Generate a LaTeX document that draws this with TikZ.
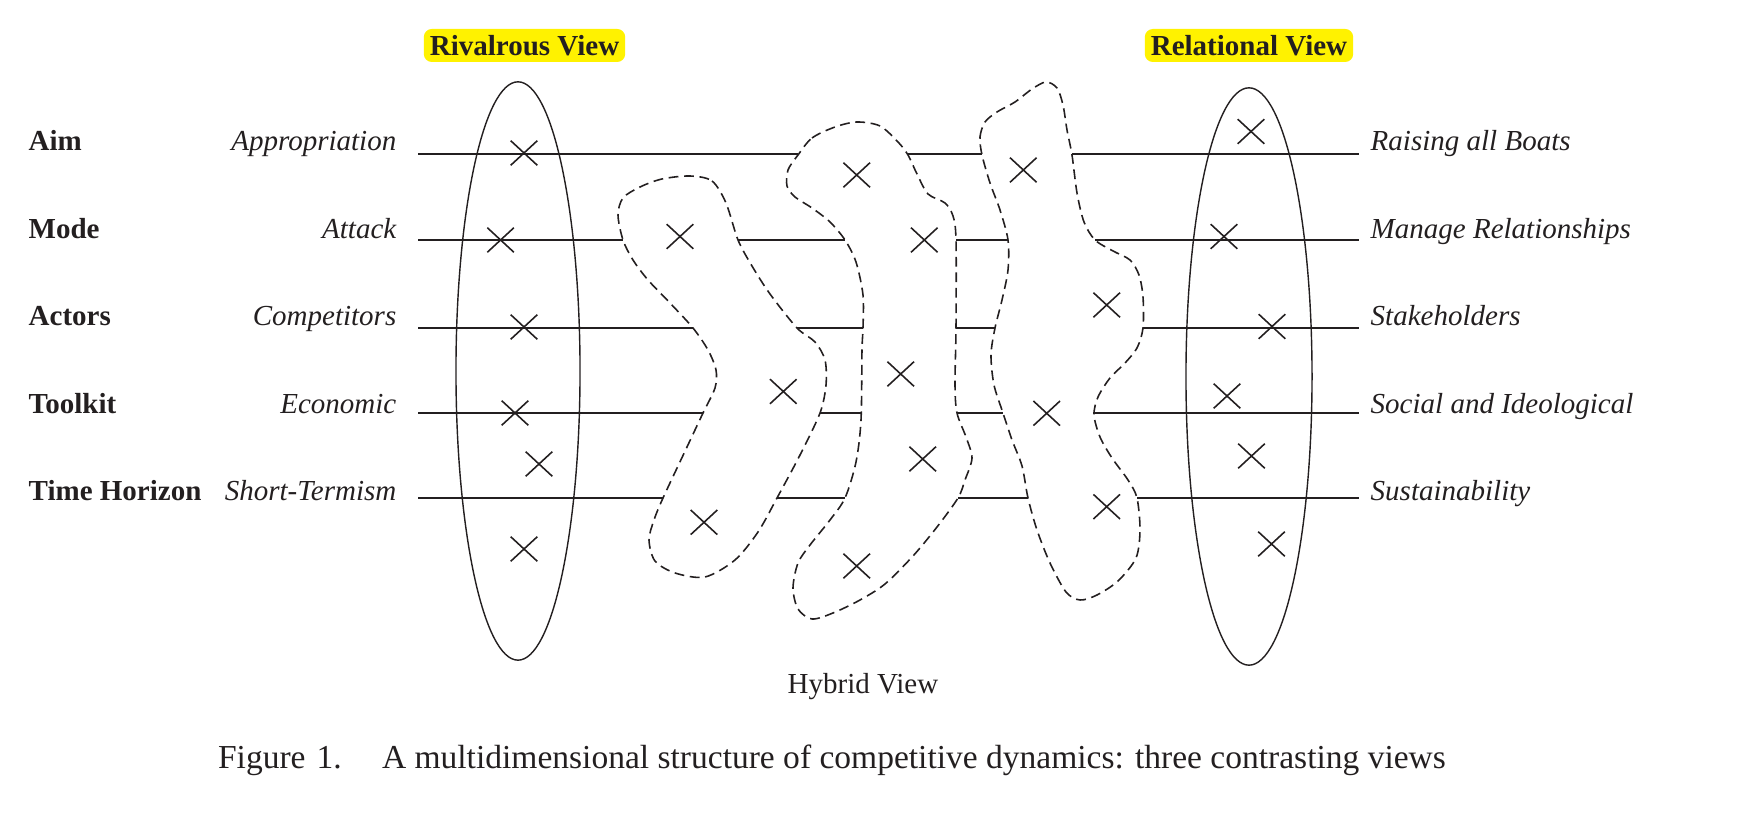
\documentclass[tikz,border=0pt]{standalone}
\usepackage{fontspec}
\setmainfont{Liberation Serif}
\usetikzlibrary{shapes.misc}
\definecolor{ink}{RGB}{35,31,32}
\def\labelfont{\fontsize{8.25pt}{10pt}\selectfont}
\def\capfont{\fontsize{9.53pt}{11pt}\selectfont}

\begin{document}
\begin{tikzpicture}[x=0.01cm, y=-0.01cm, ink,
  rowline/.style={line width=0.5pt},
  viewring/.style={line width=0.4pt},
  blob/.style={line width=0.45pt, dash pattern=on 2.8pt off 1.6pt},
  xmark/.style={cross out, draw, line width=0.45pt, inner sep=0pt, minimum width=0.25cm, minimum height=0.23cm},
  dimname/.style={font=\labelfont\bfseries, inner sep=0pt},
  poleterm/.style={font=\labelfont\itshape, inner sep=0pt},
  viewtag/.style={font=\labelfont\bfseries, fill=yellow, rounded corners=0.08cm, inner xsep=0.06cm, inner ysep=0pt, minimum height=0.33cm}]
				%%%%% START %%%%%
				\useasboundingbox (0,0) rectangle (1748,816);
				
				\node[viewtag] (rivalrous) at (524.5,45.5) {Rivalrous View};
				\node[viewtag] (relational) at (1249,45.5) {Relational View};
				
				\foreach \aspect/\rivterm/\relterm [count=\i] in {Aim/Appropriation/Raising all Boats, Mode/Attack/Manage Relationships, Actors/Competitors/Stakeholders, Toolkit/Economic/Social and Ideological, Time Horizon/Short-Termism/Sustainability}
				{
					\node[dimname, anchor=base west] (dim\i) at (28, {150.5+87.6*(\i-1)}) {\aspect};
					\node[poleterm, anchor=base east] (riv\i) at (397, {150.5+87.6*(\i-1)}) {\rivterm};
					\node[poleterm, anchor=base west] (rel\i) at (1370, {150.5+87.6*(\i-1)}) {\relterm};
				}
				
				\draw[rowline] (418,154) -- (798,154) (908,154) -- (982,154) (1072,154) -- (1359,154);
				\draw[rowline] (418,240) -- (623,240) (738,240) -- (845,240) (956,240) -- (1008,240) (1095,240) -- (1359,240);
				\draw[rowline] (418,328) -- (693,328) (797,328) -- (863,328) (956,328) -- (995,328) (1143,328) -- (1359,328);
				\draw[rowline] (418,413) -- (703,413) (820,413) -- (861,413) (957,413) -- (1003,413) (1093,413) -- (1359,413);
				\draw[rowline] (418,498) -- (663,498) (777,498) -- (845,498) (958,498) -- (1028,498) (1137,498) -- (1359,498);
				
				\draw[viewring] (518,371) ellipse [x radius=0.62cm, y radius=2.89cm];
				\draw[viewring] (1249,376.5) ellipse [x radius=0.63cm, y radius=2.885cm];
				
				\draw[blob] plot[smooth cycle] coordinates {(690,176) (712,181) (726,203) (738,240) (752,266) (770,294) (797,328) (815,342) (825,360) (826,385) (820,413) (800,455) (777,498) (758,532) (735,560) (705,577) (675,573) (655,561) (649,540) (654,520) (663,498) (687,447) (703,413) (715,388) (716,370) (708,350) (693,328) (670,303) (648,280) (633,260) (623,240) (618,215) (623,198) (640,187) (662,179)};
				\draw[blob] plot[smooth cycle] coordinates {(798,155) (812,138) (835,127) (857,122) (880,126) (898,142) (908,155) (917,174) (928,194) (945,203) (953,216) (956,240) (956,328) (955,385) (957,413) (966,437) (972,458) (965,480) (958,498) (937,527) (913,556) (885,584) (860,600) (833,613) (812,619) (798,609) (793,588) (798,563) (810,545) (830,520) (845,498) (856,462) (861,420) (862,350) (863,328) (863,295) (856,262) (845,240) (830,222) (812,208) (795,197) (787,186) (788,170)};
				\draw[blob] plot[smooth cycle] coordinates {(982,155) (980,137) (985,122) (997,112) (1015,102) (1032,89) (1046,82) (1057,88) (1063,105) (1067,130) (1072,155) (1077,193) (1084,222) (1095,240) (1113,251) (1130,260) (1139,275) (1143,297) (1143,328) (1137,348) (1125,363) (1110,378) (1098,397) (1094,415) (1100,437) (1112,458) (1128,480) (1137,498) (1140,530) (1136,558) (1118,581) (1097,595) (1080,600) (1066,592) (1050,563) (1037,530) (1028,498) (1022,466) (1012,440) (1003,413) (994,385) (991,355) (995,328) (1002,300) (1008,270) (1008,240) (1000,210) (990,183)};
				
				\foreach \x/\y [count=\i] in {524/153, 500.6/240, 524/327, 515/413, 539/464, 524/549}
					\node[xmark] (rx\i) at (\x,\y) {};
				\foreach \x/\y [count=\i] in {680/236.5, 783.3/391.5, 704/522.3, 856.7/175, 924.3/240, 900.7/374, 922.7/459, 856.7/566, 1023.3/170, 1106.7/305, 1046.7/413.3, 1106.7/506.7}
					\node[xmark] (hx\i) at (\x,\y) {};
				\foreach \x/\y [count=\i] in {1251/131.5, 1224/236.5, 1272/326.5, 1227/396, 1251.5/456, 1271.5/544}
					\node[xmark] (lx\i) at (\x,\y) {};
				
				\node[font=\labelfont, anchor=base, inner sep=0pt] (hybrid) at (863,694) {Hybrid View};
				\node[font=\capfont, anchor=base west, inner sep=0pt] (caption) at (217.4,769) {Figure\hspace{0.33em}1.\hspace{1.2em}A multidimensional structure of competitive dynamics: three contrasting views};
				%%%%% END %%%%%
\end{tikzpicture}
\end{document}
